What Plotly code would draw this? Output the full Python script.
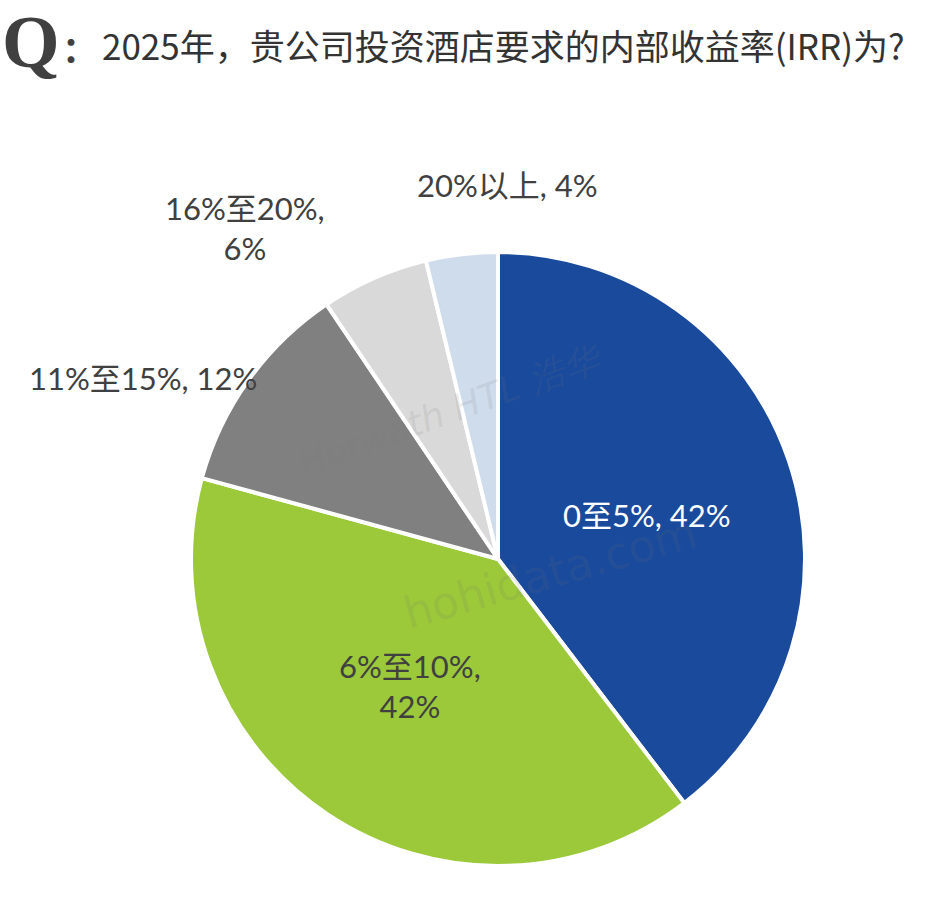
import plotly.graph_objects as go

categories = ["0至5%", "6%至10%", "11%至15%", "16%至20%", "20%以上"]
values = [42, 42, 12, 6, 4]
colors = ["#1a4a9c", "#9bc93a", "#808080", "#d9d9d9", "#cfdcec"]

W, H = 929, 899
cx, cy, r = 498, 559, 307

fig = go.Figure(go.Pie(
    labels=categories, values=values, sort=False, direction="clockwise", rotation=0,
    marker=dict(colors=colors, line=dict(color="white", width=4)),
    textinfo="none", hoverinfo="label+value", showlegend=False,
    domain=dict(x=[(cx - r) / W, (cx + r) / W], y=[(H - cy - r) / H, (H - cy + r) / H]),
))

font_fam = "Lato, Noto Sans CJK SC, sans-serif"
# label placement (pixel centres) and line breaks
label_pos = [(647, 515), (410, 686), (143, 378), (245, 228), (507, 185)]
label_fmt = ["{c}, {v}%", "{c},<br>{v}%", "{c}, {v}%", "{c},<br>{v}%", "{c}, {v}%"]
label_col = ["white", "#404040", "#404040", "#404040", "#404040"]

ann = []
for c, v, (px, py), fmt, col in zip(categories, values, label_pos, label_fmt, label_col):
    ann.append(dict(x=px / W, y=1 - py / H, xref="paper", yref="paper", showarrow=False,
                    text=fmt.format(c=c, v=v), font=dict(size=31, color=col, family=font_fam),
                    xanchor="center", yanchor="middle"))

# watermarks
ann.append(dict(x=290 / W, y=1 - 410 / H, xref="paper", yref="paper", showarrow=False,
                text="<i>Horwath HTL 浩华</i>", textangle=-20,
                font=dict(size=36, color="rgba(120,120,120,0.15)", family="DejaVu Sans")))
ann.append(dict(x=705 / W, y=1 - 572 / H, xref="paper", yref="paper", showarrow=False,
                text="hohidata.com", textangle=-16,
                font=dict(size=44, color="rgba(110,110,110,0.15)", family="DejaVu Sans")))

# title
ann.append(dict(x=0, y=1 - 42 / H, xref="paper", yref="paper", showarrow=False,
                text="<b>Q</b>", xanchor="left", yanchor="middle",
                font=dict(size=74, color="#404040", family="Liberation Serif, serif")))
ann.append(dict(x=60 / W, y=1 - 47 / H, xref="paper", yref="paper", showarrow=False,
                text="<b>：</b>", xanchor="left", yanchor="middle",
                font=dict(size=36, color="#404040", family="Noto Sans CJK SC")))
ann.append(dict(x=100 / W, y=1 - 45 / H, xref="paper", yref="paper", showarrow=False,
                text="2025年，贵公司投资酒店要求的内部收益率(IRR)为?", xanchor="left", yanchor="middle",
                font=dict(size=35, color="#333333", family="Noto Sans CJK SC")))

fig.update_layout(width=W, height=H, margin=dict(l=0, r=0, t=0, b=0),
                  paper_bgcolor="white", plot_bgcolor="white", annotations=ann)

fig.write_html("out.html")
